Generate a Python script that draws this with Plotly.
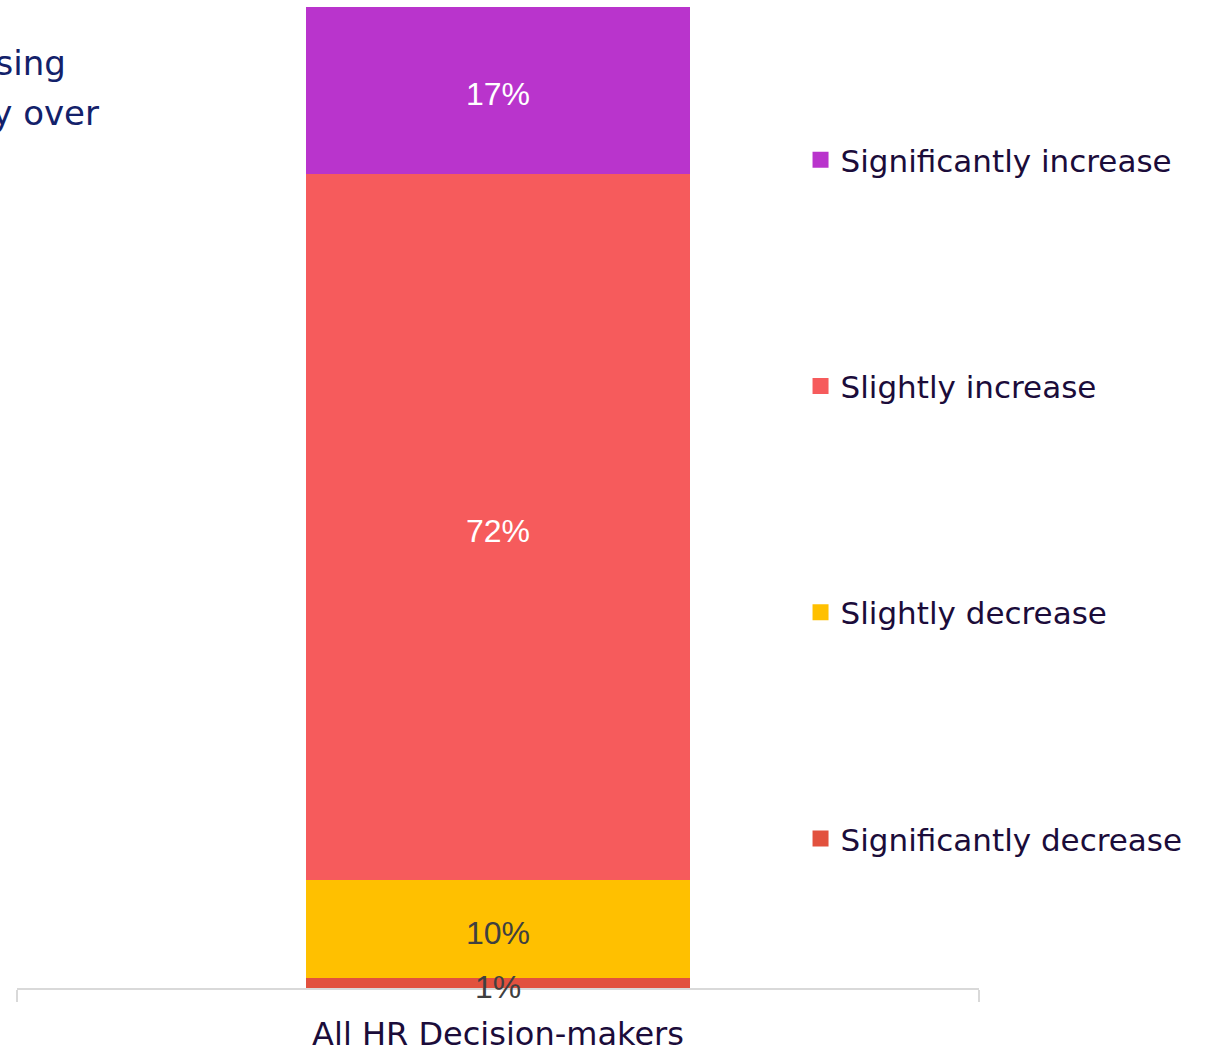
import plotly.graph_objects as go

# Survey result: expected change, all HR decision-makers
categories = ["All HR Decision-makers"]
series_names = ["Significantly decrease", "Slightly decrease", "Slightly increase", "Significantly increase"]
series_values = [[1], [10], [72], [17]]
series_colors = ["#E2513E", "#FFC000", "#F65B5C", "#B934CC"]
label_colors = ["#404040", "#404040", "#FFFFFF", "#FFFFFF"]

title_lines = ["HR budgets are increasing", "steadily over"]

TEXT_FONT = "DejaVu Sans"
LABEL_FONT = "Liberation Sans"

fig = go.Figure()
for i, (name, vals) in enumerate(zip(series_names, series_values)):
    fig.add_trace(go.Bar(
        x=categories,
        y=vals,
        name=name,
        legendgroup=name,
        showlegend=False,
        marker=dict(color=series_colors[i], line=dict(width=0)),
        hoverinfo="name+y",
    ))
    # legend entry with a larger square swatch, tied to the bar via legendgroup
    fig.add_trace(go.Scatter(
        x=[None], y=[None],
        mode="markers",
        name=name,
        legendgroup=name,
        legendrank=len(series_names) - i,
        marker=dict(symbol="square", size=20, color=series_colors[i]),
        hoverinfo="skip",
    ))

# Segment value labels at the middle of each stacked segment
base = 0
for i, vals in enumerate(series_values):
    for cat, v in zip(categories, vals):
        fig.add_annotation(
            x=cat, y=base + v / 2, xref="x", yref="y",
            text=f"{v}%", showarrow=False,
            xanchor="center", yanchor="middle", yshift=-4,
            font=dict(family=LABEL_FONT, size=32, color=label_colors[i]),
        )
    base += vals[0]

# Title block, running off the left edge of the page
for j, (line, xpx) in enumerate(zip(title_lines, [68, 101])):
    fig.add_annotation(
        text=line, xref="paper", yref="paper",
        x=(xpx - 17) / 962, y=1 - (63 - 7 + 50 * j) / 981,
        xanchor="right", yanchor="middle", showarrow=False,
        font=dict(family=TEXT_FONT, size=34, color="#13216A"),
    )

fig.update_layout(
    width=1227, height=1053,
    margin=dict(l=17, r=248, t=7, b=65),
    barmode="stack",
    bargap=0.6,
    plot_bgcolor="white", paper_bgcolor="white",
    showlegend=True,
    legend=dict(
        x=(814 - 17) / 962 - 0.014, xanchor="left",
        y=1 - (133 - 7) / 981, yanchor="top",
        traceorder="grouped",
        tracegroupgap=183,
        itemsizing="trace",
        font=dict(family=TEXT_FONT, size=31, color="#1B0C3A"),
        bgcolor="rgba(0,0,0,0)",
    ),
    xaxis=dict(
        type="category",
        range=[-0.5, 0.5],
        automargin=False,
        showline=True, linecolor="#D9D9D9", linewidth=2,
        ticks="outside", tickson="boundaries", ticklen=12, tickwidth=2, tickcolor="#D9D9D9",
        ticklabelstandoff=17,
        tickfont=dict(family=TEXT_FONT, size=32, color="#1B0C3A"),
        showgrid=False, zeroline=False,
    ),
    yaxis=dict(
        range=[0, 100],
        visible=False,
        automargin=False,
        showgrid=False, zeroline=False,
    ),
)

fig.write_html("out.html")
